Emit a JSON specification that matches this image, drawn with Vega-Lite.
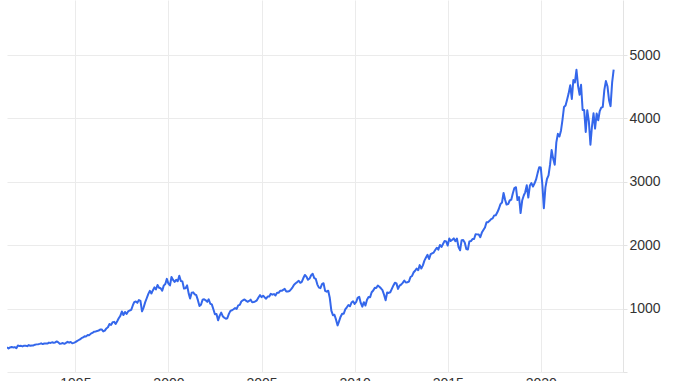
{
  "$schema": "https://vega.github.io/schema/vega-lite/v6.json",
  "width": 616,
  "height": 372,
  "autosize": {"type": "none"},
  "padding": {"left": 7, "top": 0, "right": 55, "bottom": 9},
  "background": "#ffffff",
  "config": {"view": {"stroke": null}, "font": "Liberation Sans"},
  "data": {"values": [
{"date":"1991-05","close":389.8},{"date":"1991-06","close":371.2},{"date":"1991-07","close":387.8},{"date":"1991-08","close":395.4},{"date":"1991-09","close":387.9},{"date":"1991-10","close":392.5},{"date":"1991-11","close":375.2},{"date":"1991-12","close":417.1},
{"date":"1992-01","close":408.8},{"date":"1992-02","close":412.7},{"date":"1992-03","close":403.7},{"date":"1992-04","close":414.9},{"date":"1992-05","close":415.4},{"date":"1992-06","close":408.1},{"date":"1992-07","close":424.2},{"date":"1992-08","close":414.0},{"date":"1992-09","close":417.8},{"date":"1992-10","close":418.7},{"date":"1992-11","close":431.4},{"date":"1992-12","close":435.7},
{"date":"1993-01","close":438.8},{"date":"1993-02","close":443.4},{"date":"1993-03","close":451.7},{"date":"1993-04","close":440.2},{"date":"1993-05","close":450.2},{"date":"1993-06","close":450.5},{"date":"1993-07","close":448.1},{"date":"1993-08","close":463.6},{"date":"1993-09","close":458.9},{"date":"1993-10","close":467.8},{"date":"1993-11","close":461.8},{"date":"1993-12","close":466.5},
{"date":"1994-01","close":481.6},{"date":"1994-02","close":467.1},{"date":"1994-03","close":445.8},{"date":"1994-04","close":450.9},{"date":"1994-05","close":456.5},{"date":"1994-06","close":444.3},{"date":"1994-07","close":458.3},{"date":"1994-08","close":475.5},{"date":"1994-09","close":462.7},{"date":"1994-10","close":472.4},{"date":"1994-11","close":453.7},{"date":"1994-12","close":459.3},
{"date":"1995-01","close":470.4},{"date":"1995-02","close":487.4},{"date":"1995-03","close":500.7},{"date":"1995-04","close":514.7},{"date":"1995-05","close":533.4},{"date":"1995-06","close":544.8},{"date":"1995-07","close":562.1},{"date":"1995-08","close":561.9},{"date":"1995-09","close":584.4},{"date":"1995-10","close":581.5},{"date":"1995-11","close":605.4},{"date":"1995-12","close":615.9},
{"date":"1996-01","close":636.0},{"date":"1996-02","close":640.4},{"date":"1996-03","close":645.5},{"date":"1996-04","close":654.2},{"date":"1996-05","close":669.1},{"date":"1996-06","close":670.6},{"date":"1996-07","close":639.9},{"date":"1996-08","close":652.0},{"date":"1996-09","close":687.3},{"date":"1996-10","close":705.3},{"date":"1996-11","close":757.0},{"date":"1996-12","close":740.7},
{"date":"1997-01","close":786.2},{"date":"1997-02","close":790.8},{"date":"1997-03","close":757.1},{"date":"1997-04","close":801.3},{"date":"1997-05","close":848.3},{"date":"1997-06","close":885.1},{"date":"1997-07","close":954.3},{"date":"1997-08","close":899.5},{"date":"1997-09","close":947.3},{"date":"1997-10","close":914.6},{"date":"1997-11","close":955.4},{"date":"1997-12","close":970.4},
{"date":"1998-01","close":980.3},{"date":"1998-02","close":1049.3},{"date":"1998-03","close":1101.8},{"date":"1998-04","close":1111.8},{"date":"1998-05","close":1090.8},{"date":"1998-06","close":1133.8},{"date":"1998-07","close":1120.7},{"date":"1998-08","close":957.3},{"date":"1998-09","close":1017.0},{"date":"1998-10","close":1098.7},{"date":"1998-11","close":1163.6},{"date":"1998-12","close":1229.2},
{"date":"1999-01","close":1279.6},{"date":"1999-02","close":1238.3},{"date":"1999-03","close":1286.4},{"date":"1999-04","close":1335.2},{"date":"1999-05","close":1301.8},{"date":"1999-06","close":1372.7},{"date":"1999-07","close":1328.7},{"date":"1999-08","close":1320.4},{"date":"1999-09","close":1282.7},{"date":"1999-10","close":1362.9},{"date":"1999-11","close":1388.9},{"date":"1999-12","close":1469.3},
{"date":"2000-01","close":1394.5},{"date":"2000-02","close":1366.4},{"date":"2000-03","close":1498.6},{"date":"2000-04","close":1452.4},{"date":"2000-05","close":1420.6},{"date":"2000-06","close":1454.6},{"date":"2000-07","close":1430.8},{"date":"2000-08","close":1517.7},{"date":"2000-09","close":1436.5},{"date":"2000-10","close":1429.4},{"date":"2000-11","close":1314.9},{"date":"2000-12","close":1320.3},
{"date":"2001-01","close":1366.0},{"date":"2001-02","close":1239.9},{"date":"2001-03","close":1160.3},{"date":"2001-04","close":1249.5},{"date":"2001-05","close":1256.0},{"date":"2001-06","close":1224.4},{"date":"2001-07","close":1211.2},{"date":"2001-08","close":1133.6},{"date":"2001-09","close":1040.9},{"date":"2001-10","close":1059.8},{"date":"2001-11","close":1139.5},{"date":"2001-12","close":1148.1},
{"date":"2002-01","close":1130.2},{"date":"2002-02","close":1106.7},{"date":"2002-03","close":1147.4},{"date":"2002-04","close":1076.9},{"date":"2002-05","close":1067.1},{"date":"2002-06","close":989.8},{"date":"2002-07","close":911.6},{"date":"2002-08","close":916.1},{"date":"2002-09","close":815.3},{"date":"2002-10","close":885.8},{"date":"2002-11","close":936.3},{"date":"2002-12","close":879.8},
{"date":"2003-01","close":855.7},{"date":"2003-02","close":841.2},{"date":"2003-03","close":848.2},{"date":"2003-04","close":916.9},{"date":"2003-05","close":963.6},{"date":"2003-06","close":974.5},{"date":"2003-07","close":990.3},{"date":"2003-08","close":1008.0},{"date":"2003-09","close":996.0},{"date":"2003-10","close":1050.7},{"date":"2003-11","close":1058.2},{"date":"2003-12","close":1111.9},
{"date":"2004-01","close":1131.1},{"date":"2004-02","close":1144.9},{"date":"2004-03","close":1126.2},{"date":"2004-04","close":1107.3},{"date":"2004-05","close":1120.7},{"date":"2004-06","close":1140.8},{"date":"2004-07","close":1101.7},{"date":"2004-08","close":1104.2},{"date":"2004-09","close":1114.6},{"date":"2004-10","close":1130.2},{"date":"2004-11","close":1173.8},{"date":"2004-12","close":1211.9},
{"date":"2005-01","close":1181.3},{"date":"2005-02","close":1203.6},{"date":"2005-03","close":1180.6},{"date":"2005-04","close":1156.9},{"date":"2005-05","close":1191.5},{"date":"2005-06","close":1191.3},{"date":"2005-07","close":1234.2},{"date":"2005-08","close":1220.3},{"date":"2005-09","close":1228.8},{"date":"2005-10","close":1207.0},{"date":"2005-11","close":1249.5},{"date":"2005-12","close":1248.3},
{"date":"2006-01","close":1280.1},{"date":"2006-02","close":1280.7},{"date":"2006-03","close":1294.9},{"date":"2006-04","close":1310.6},{"date":"2006-05","close":1270.1},{"date":"2006-06","close":1270.2},{"date":"2006-07","close":1276.7},{"date":"2006-08","close":1303.8},{"date":"2006-09","close":1335.9},{"date":"2006-10","close":1377.9},{"date":"2006-11","close":1400.6},{"date":"2006-12","close":1418.3},
{"date":"2007-01","close":1438.2},{"date":"2007-02","close":1406.8},{"date":"2007-03","close":1420.9},{"date":"2007-04","close":1482.4},{"date":"2007-05","close":1530.6},{"date":"2007-06","close":1503.4},{"date":"2007-07","close":1455.3},{"date":"2007-08","close":1474.0},{"date":"2007-09","close":1526.8},{"date":"2007-10","close":1549.4},{"date":"2007-11","close":1481.1},{"date":"2007-12","close":1468.4},
{"date":"2008-01","close":1378.6},{"date":"2008-02","close":1330.6},{"date":"2008-03","close":1322.7},{"date":"2008-04","close":1385.6},{"date":"2008-05","close":1400.4},{"date":"2008-06","close":1280.0},{"date":"2008-07","close":1267.4},{"date":"2008-08","close":1282.8},{"date":"2008-09","close":1166.4},{"date":"2008-10","close":968.8},{"date":"2008-11","close":896.2},{"date":"2008-12","close":903.3},
{"date":"2009-01","close":825.9},{"date":"2009-02","close":735.1},{"date":"2009-03","close":797.9},{"date":"2009-04","close":872.8},{"date":"2009-05","close":919.1},{"date":"2009-06","close":919.3},{"date":"2009-07","close":987.5},{"date":"2009-08","close":1020.6},{"date":"2009-09","close":1057.1},{"date":"2009-10","close":1036.2},{"date":"2009-11","close":1095.6},{"date":"2009-12","close":1115.1},
{"date":"2010-01","close":1073.9},{"date":"2010-02","close":1104.5},{"date":"2010-03","close":1169.4},{"date":"2010-04","close":1186.7},{"date":"2010-05","close":1089.4},{"date":"2010-06","close":1030.7},{"date":"2010-07","close":1101.6},{"date":"2010-08","close":1049.3},{"date":"2010-09","close":1141.2},{"date":"2010-10","close":1183.3},{"date":"2010-11","close":1180.6},{"date":"2010-12","close":1257.6},
{"date":"2011-01","close":1286.1},{"date":"2011-02","close":1327.2},{"date":"2011-03","close":1325.8},{"date":"2011-04","close":1363.6},{"date":"2011-05","close":1345.2},{"date":"2011-06","close":1320.6},{"date":"2011-07","close":1292.3},{"date":"2011-08","close":1218.9},{"date":"2011-09","close":1131.4},{"date":"2011-10","close":1253.3},{"date":"2011-11","close":1247.0},{"date":"2011-12","close":1257.6},
{"date":"2012-01","close":1312.4},{"date":"2012-02","close":1365.7},{"date":"2012-03","close":1408.5},{"date":"2012-04","close":1397.9},{"date":"2012-05","close":1310.3},{"date":"2012-06","close":1362.2},{"date":"2012-07","close":1379.3},{"date":"2012-08","close":1406.6},{"date":"2012-09","close":1440.7},{"date":"2012-10","close":1412.2},{"date":"2012-11","close":1416.2},{"date":"2012-12","close":1426.2},
{"date":"2013-01","close":1498.1},{"date":"2013-02","close":1514.7},{"date":"2013-03","close":1569.2},{"date":"2013-04","close":1597.6},{"date":"2013-05","close":1630.7},{"date":"2013-06","close":1606.3},{"date":"2013-07","close":1685.7},{"date":"2013-08","close":1633.0},{"date":"2013-09","close":1681.6},{"date":"2013-10","close":1756.5},{"date":"2013-11","close":1805.8},{"date":"2013-12","close":1848.4},
{"date":"2014-01","close":1782.6},{"date":"2014-02","close":1859.5},{"date":"2014-03","close":1872.3},{"date":"2014-04","close":1883.9},{"date":"2014-05","close":1923.6},{"date":"2014-06","close":1960.2},{"date":"2014-07","close":1930.7},{"date":"2014-08","close":2003.4},{"date":"2014-09","close":1972.3},{"date":"2014-10","close":2018.1},{"date":"2014-11","close":2067.6},{"date":"2014-12","close":2058.9},
{"date":"2015-01","close":1995.0},{"date":"2015-02","close":2104.5},{"date":"2015-03","close":2067.9},{"date":"2015-04","close":2085.5},{"date":"2015-05","close":2107.4},{"date":"2015-06","close":2063.1},{"date":"2015-07","close":2103.8},{"date":"2015-08","close":1972.2},{"date":"2015-09","close":1920.0},{"date":"2015-10","close":2079.4},{"date":"2015-11","close":2080.4},{"date":"2015-12","close":2043.9},
{"date":"2016-01","close":1940.2},{"date":"2016-02","close":1932.2},{"date":"2016-03","close":2059.7},{"date":"2016-04","close":2065.3},{"date":"2016-05","close":2097.0},{"date":"2016-06","close":2098.9},{"date":"2016-07","close":2173.6},{"date":"2016-08","close":2171.0},{"date":"2016-09","close":2168.3},{"date":"2016-10","close":2126.2},{"date":"2016-11","close":2198.8},{"date":"2016-12","close":2238.8},
{"date":"2017-01","close":2278.9},{"date":"2017-02","close":2363.6},{"date":"2017-03","close":2362.7},{"date":"2017-04","close":2384.2},{"date":"2017-05","close":2411.8},{"date":"2017-06","close":2423.4},{"date":"2017-07","close":2470.3},{"date":"2017-08","close":2471.7},{"date":"2017-09","close":2519.4},{"date":"2017-10","close":2575.3},{"date":"2017-11","close":2647.6},{"date":"2017-12","close":2673.6},
{"date":"2018-01","close":2823.8},{"date":"2018-02","close":2713.8},{"date":"2018-03","close":2640.9},{"date":"2018-04","close":2648.1},{"date":"2018-05","close":2705.3},{"date":"2018-06","close":2718.4},{"date":"2018-07","close":2816.3},{"date":"2018-08","close":2901.5},{"date":"2018-09","close":2914.0},{"date":"2018-10","close":2711.7},{"date":"2018-11","close":2760.2},{"date":"2018-12","close":2506.9},
{"date":"2019-01","close":2704.1},{"date":"2019-02","close":2784.5},{"date":"2019-03","close":2834.4},{"date":"2019-04","close":2945.8},{"date":"2019-05","close":2752.1},{"date":"2019-06","close":2941.8},{"date":"2019-07","close":2980.4},{"date":"2019-08","close":2926.5},{"date":"2019-09","close":2976.7},{"date":"2019-10","close":3037.6},{"date":"2019-11","close":3141.0},{"date":"2019-12","close":3230.8},
{"date":"2020-01","close":3225.5},{"date":"2020-02","close":2954.2},{"date":"2020-03","close":2584.6},{"date":"2020-04","close":2912.4},{"date":"2020-05","close":3044.3},{"date":"2020-06","close":3100.3},{"date":"2020-07","close":3271.1},{"date":"2020-08","close":3500.3},{"date":"2020-09","close":3363.0},{"date":"2020-10","close":3270.0},{"date":"2020-11","close":3621.6},{"date":"2020-12","close":3756.1},
{"date":"2021-01","close":3714.2},{"date":"2021-02","close":3811.2},{"date":"2021-03","close":3972.9},{"date":"2021-04","close":4181.2},{"date":"2021-05","close":4204.1},{"date":"2021-06","close":4297.5},{"date":"2021-07","close":4395.3},{"date":"2021-08","close":4522.7},{"date":"2021-09","close":4307.5},{"date":"2021-10","close":4605.4},{"date":"2021-11","close":4567.0},{"date":"2021-12","close":4766.2},
{"date":"2022-01","close":4515.6},{"date":"2022-02","close":4373.9},{"date":"2022-03","close":4530.4},{"date":"2022-04","close":4131.9},{"date":"2022-05","close":4132.2},{"date":"2022-06","close":3785.4},{"date":"2022-07","close":4130.3},{"date":"2022-08","close":3955.0},{"date":"2022-09","close":3585.6},{"date":"2022-10","close":3872.0},{"date":"2022-11","close":4080.1},{"date":"2022-12","close":3839.5},
{"date":"2023-01","close":4076.6},{"date":"2023-02","close":3970.2},{"date":"2023-03","close":4109.3},{"date":"2023-04","close":4169.5},{"date":"2023-05","close":4179.8},{"date":"2023-06","close":4450.4},{"date":"2023-07","close":4589.0},{"date":"2023-08","close":4507.7},{"date":"2023-09","close":4288.1},{"date":"2023-10","close":4193.8},{"date":"2023-11","close":4567.8},{"date":"2023-12","close":4769.8}
  ]},
  "mark": {"type": "line", "color": "#3467eb", "strokeWidth": 2, "strokeJoin": "round", "clip": true},
  "encoding": {
    "x": {
      "field": "date", "type": "temporal",
      "scale": {"domain": [{"year": 1991, "month": 5, "date": 1}, {"year": 2024, "month": 6, "date": 1}], "nice": false},
      "axis": {
        "title": null,
        "values": [{"year": 1995}, {"year": 2000}, {"year": 2005}, {"year": 2010}, {"year": 2015}, {"year": 2020}],
        "format": "%Y",
        "grid": true, "gridColor": "#ebebeb", "gridWidth": 1,
        "domain": false, "ticks": false,
        "labelFontSize": 14, "labelColor": "#333333", "labelPadding": 4,
        "labelFont": "Liberation Sans"
      }
    },
    "y": {
      "field": "close", "type": "quantitative",
      "scale": {"domain": [0, 5868], "nice": false, "zero": true},
      "axis": {
        "title": null, "orient": "right",
        "values": [0, 1000, 2000, 3000, 4000, 5000],
        "labelExpr": "datum.value == 0 ? '' : datum.value",
        "grid": true, "gridColor": "#ebebeb", "gridWidth": 1,
        "domain": true, "domainColor": "#e3e3e3", "domainWidth": 1,
        "ticks": true, "tickSize": 4, "tickColor": "#e3e3e3",
        "labelFontSize": 14, "labelColor": "#333333", "labelPadding": 2,
        "labelFont": "Liberation Sans", "labelBaseline": "middle"
      }
    }
  }
}
